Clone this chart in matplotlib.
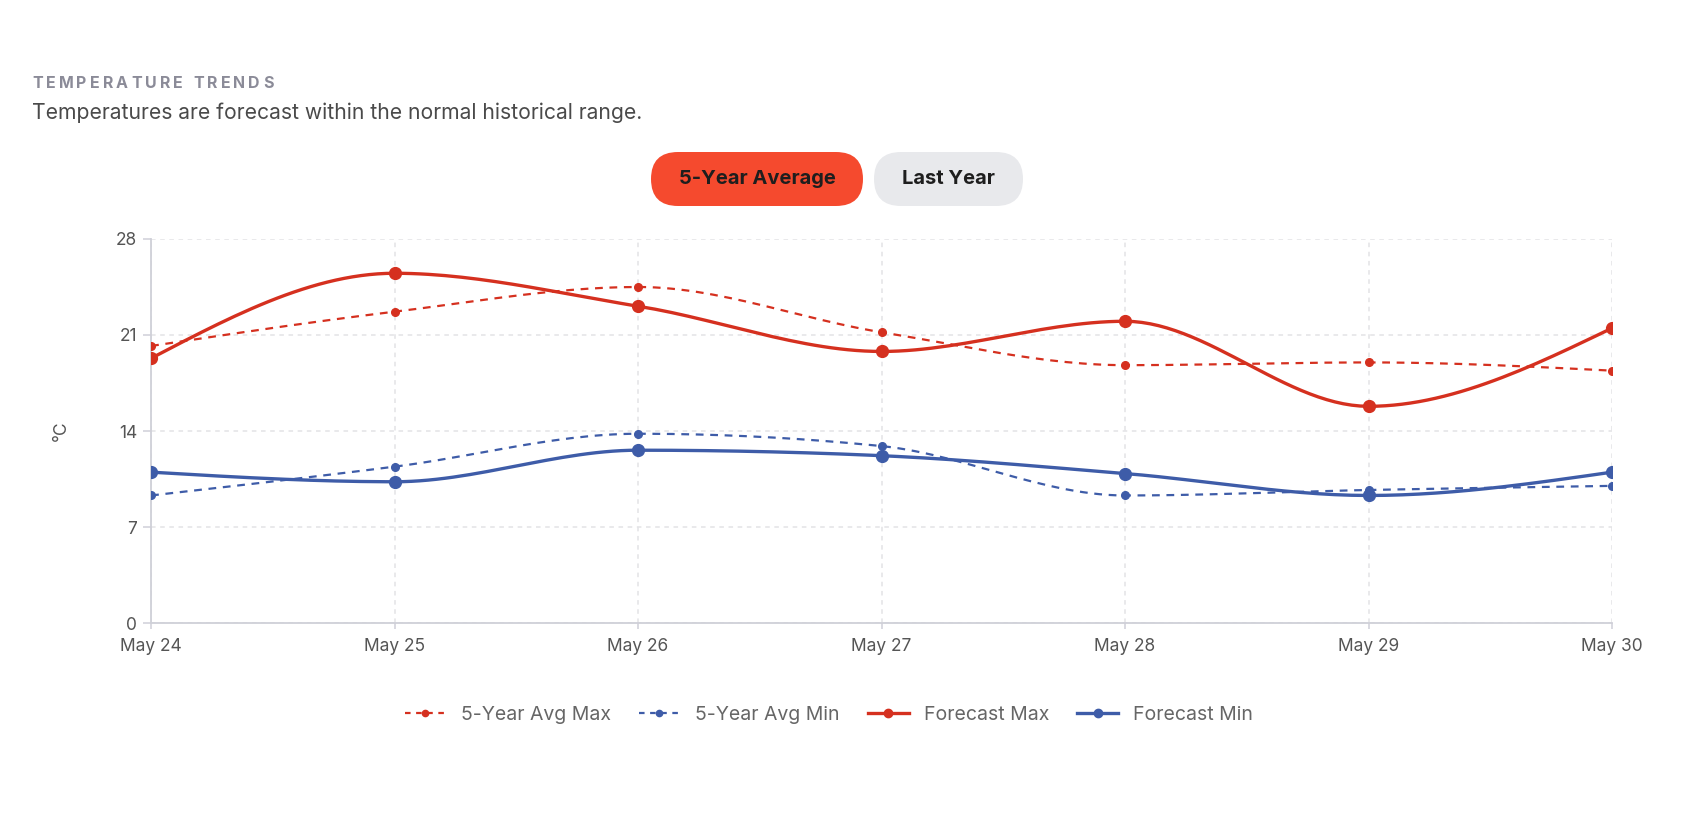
import numpy as np
import matplotlib.pyplot as plt
from matplotlib.patches import FancyBboxPatch
from matplotlib.lines import Line2D

plt.rcParams['font.family'] = ['Inter', 'DejaVu Sans']

days = ["May 24", "May 25", "May 26", "May 27", "May 28", "May 29", "May 30"]
avg_max = [20.2, 22.7, 24.5, 21.2, 18.8, 19.0, 18.4]
avg_min = [9.3, 11.4, 13.8, 12.9, 9.3, 9.7, 10.0]
fc_max = [19.3, 25.5, 23.1, 19.8, 22.0, 15.8, 21.5]
fc_min = [11.0, 10.3, 12.6, 12.2, 10.9, 9.3, 11.0]

RED = "#d5301f"
BLUE = "#3e5ca8"
W, H = 1688, 840


def monotone_path(y, steps=30):
    # monotone-x cubic like d3's curveMonotoneX, only for drawing the line
    y = np.asarray(y, dtype=float)
    x = np.arange(len(y), dtype=float)
    s = np.diff(y) / np.diff(x)
    t = np.zeros(len(y))
    for i in range(1, len(y) - 1):
        s0, s1 = s[i - 1], s[i]
        p = (s0 + s1) / 2
        t[i] = (np.sign(s0) + np.sign(s1)) * min(abs(s0), abs(s1), 0.5 * abs(p))
    t[0] = (3 * s[0] - t[1]) / 2
    t[-1] = (3 * s[-1] - t[-2]) / 2
    xs, ys = [], []
    for i in range(len(y) - 1):
        u = np.linspace(0, 1, steps)
        h00 = 2 * u**3 - 3 * u**2 + 1
        h10 = u**3 - 2 * u**2 + u
        h01 = -2 * u**3 + 3 * u**2
        h11 = u**3 - u**2
        xs.extend(x[i] + u)
        ys.extend(h00 * y[i] + h10 * t[i] + h01 * y[i + 1] + h11 * t[i + 1])
    return np.array(xs), np.array(ys)


fig = plt.figure(figsize=(W / 100, H / 100), dpi=100)
ax = fig.add_axes([0.0895, 0.2583, 0.8655, 0.4572])

series = [
    (avg_max, RED, True, "5-Year Avg Max"),
    (avg_min, BLUE, True, "5-Year Avg Min"),
    (fc_max, RED, False, "Forecast Max"),
    (fc_min, BLUE, False, "Forecast Min"),
]
xi = np.arange(len(days))
handles = []
for vals, col, dashed, lab in series:
    cx, cy = monotone_path(vals)
    if dashed:
        ax.plot(cx, cy, color=col, lw=1.6, dashes=(3.5, 3), zorder=3)
        ax.plot(xi, vals, 'o', color=col, ms=5.5, zorder=4)
        handles.append(Line2D([], [], color=col, lw=1.6, dashes=(2.5, 2.5), marker='o', ms=4.5))
    else:
        ax.plot(cx, cy, color=col, lw=2.4, zorder=5)
        ax.plot(xi, vals, 'o', color=col, ms=8.5, zorder=6)
        handles.append(Line2D([], [], color=col, lw=2.4, marker='o', ms=6))

ax.set_xlim(0, len(days) - 1)
ax.set_ylim(0, 28)
ax.set_yticks([0, 7, 14, 21, 28])
ax.set_xticks(xi)
ax.set_xticklabels(days)
ax.grid(True, color="#e3e3e6", lw=1.1, dashes=(3, 3))
ax.set_axisbelow(True)
for sp in ["top", "right"]:
    ax.spines[sp].set_visible(False)
for sp in ["left", "bottom"]:
    ax.spines[sp].set_color("#cfd0d8")
    ax.spines[sp].set_linewidth(1.3)
ax.tick_params(colors="#cfd0d8", labelcolor="#555555", labelsize=12.5, width=1.1)
ax.tick_params(axis='y', length=6, pad=4)
ax.tick_params(axis='x', length=4, pad=7)
ax.set_ylabel("°C", color="#555555", fontsize=12.5, labelpad=33)

ax.legend(handles=handles, labels=[s[3] for s in series], loc="center",
          bbox_to_anchor=(0.464, -0.239), ncol=4, frameon=False, fontsize=14,
          labelcolor="#666666", handlelength=2.1, columnspacing=1.45, handletextpad=0.78)

# title with letter spacing, drawn char by char
renderer = fig.canvas.get_renderer()
title = "TEMPERATURE TRENDS"
xpos = 32
for ch in title:
    t = fig.text(xpos / W, 1 - 83 / H, ch, fontsize=11.5, fontweight="bold",
                 color="#8b8b98", va="center")
    xpos += t.get_window_extent(renderer).width + 3.1 if ch != " " else 7.5
fig.text(32 / W, 1 - 113 / H, "Temperatures are forecast within the normal historical range.",
         fontsize=15.2, color="#4a4a4a", va="center")

# toggle buttons
for x0, x1, fc, label in [(651, 863, "#f54a2e", "5-Year Average"), (874, 1023, "#e8e9ec", "Last Year")]:
    y0, y1 = H - 206, H - 152
    box = FancyBboxPatch((x0 / W, y0 / H), (x1 - x0) / W, (y1 - y0) / H,
                         boxstyle="round,pad=0,rounding_size=0.016", transform=fig.transFigure,
                         facecolor=fc, edgecolor="none", mutation_aspect=W / H)
    fig.patches.append(box)
    fig.text((x0 + x1) / 2 / W, (y0 + y1) / 2 / H, label, fontsize=14.5, fontweight="bold",
             color="#1e1e1e", ha="center", va="center")

fig.savefig("out.png", dpi=100, facecolor="white")
